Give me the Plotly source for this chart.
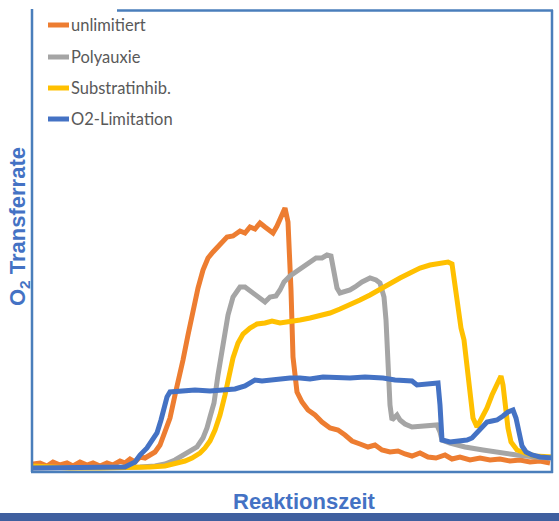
import plotly.graph_objects as go

# Data in arbitrary units (time on x, O2 transfer rate on y)
series_names = ["unlimitiert", "Polyauxie", "Substratinhib.", "O2-Limitation"]
series_colors = ["#ED7D31", "#A5A5A5", "#FFC000", "#4472C4"]

orange_x = [0, 7, 14, 20, 27, 34, 40, 47, 54, 60, 67, 74, 80, 87, 92, 97, 102, 107, 112, 117, 122, 127, 132, 137, 142, 147, 150, 155, 160, 165, 170, 175, 180, 187, 194, 200, 207, 212, 217, 222, 227, 232, 237, 240, 244, 249, 252, 255, 257, 258, 260, 262, 264, 269, 275, 282, 289, 297, 305, 312, 319, 327, 335, 342, 349, 357, 365, 372, 379, 387, 395, 403, 412, 419, 427, 437, 447, 457, 467, 477, 487, 497, 507, 517]
orange_y = [8, 9, 6, 10, 7, 9, 6, 10, 7, 9, 6, 9, 7, 11, 9, 13, 10, 15, 14, 17, 20, 27, 40, 54, 77, 97, 112, 137, 162, 184, 202, 214, 220, 228, 235, 236, 241, 239, 245, 243, 249, 245, 242, 239, 246, 259, 264, 250, 212, 182, 115, 92, 80, 70, 62, 57, 50, 44, 42, 37, 31, 28, 25, 27, 22, 20, 21, 18, 16, 19, 15, 14, 17, 13, 15, 12, 14, 12, 13, 11, 12, 10, 11, 9]

gray_x = [0, 27, 57, 87, 107, 122, 132, 142, 147, 152, 157, 164, 170, 174, 177, 181, 185, 188, 191, 195, 200, 204, 207, 212, 217, 224, 229, 232, 237, 243, 247, 251, 257, 264, 271, 277, 283, 289, 294, 298, 301, 304, 307, 312, 317, 322, 329, 337, 343, 347, 351, 353, 354, 356, 357, 359, 364, 367, 372, 379, 387, 397, 404, 407, 409, 417, 432, 450, 467, 484, 502, 517]
gray_y = [4, 4, 4, 4, 5, 6, 8, 12, 15, 17, 20, 25, 34, 44, 55, 69, 97, 117, 134, 157, 175, 182, 185, 185, 181, 175, 171, 170, 175, 176, 182, 190, 196, 201, 206, 210, 214, 214, 217, 216, 202, 184, 179, 180, 182, 185, 190, 194, 192, 189, 175, 152, 127, 92, 67, 52, 57, 52, 48, 45, 46, 46, 47, 40, 32, 29, 25, 22, 19, 17, 15, 14]

yellow_x = [0, 17, 37, 67, 97, 117, 132, 142, 152, 159, 167, 172, 177, 182, 187, 192, 196, 200, 205, 210, 217, 224, 232, 239, 247, 257, 267, 277, 287, 297, 307, 317, 327, 337, 347, 357, 367, 377, 387, 397, 407, 415, 419, 422, 425, 428, 431, 434, 437, 440, 444, 449, 454, 459, 464, 468, 470, 472, 475, 478, 484, 492, 502, 520]
yellow_y = [6, 5, 4, 4, 4, 5, 6, 8, 11, 14, 19, 24, 31, 42, 57, 77, 97, 114, 129, 138, 144, 148, 149, 151, 149, 150, 152, 154, 156, 159, 163, 167, 172, 177, 183, 189, 194, 199, 204, 207, 209, 210, 208, 187, 162, 144, 132, 107, 79, 54, 45, 54, 64, 77, 89, 96, 87, 65, 44, 30, 22, 19, 16, 15]

blue_x = [0, 27, 57, 77, 92, 102, 107, 114, 119, 124, 128, 131, 134, 137, 147, 162, 177, 192, 202, 212, 217, 222, 229, 237, 247, 257, 267, 277, 290, 302, 317, 332, 350, 362, 372, 379, 384, 392, 405, 407, 409, 417, 427, 434, 439, 444, 449, 454, 459, 464, 470, 475, 480, 483, 486, 489, 493, 499, 507, 520]
blue_y = [4, 4, 4, 4, 5, 10, 17, 24, 32, 39, 52, 64, 75, 80, 81, 82, 81, 82, 83, 86, 89, 92, 91, 92, 92, 94, 94, 93, 95, 94, 94, 95, 94, 92, 92, 91, 87, 88, 89, 67, 32, 30, 31, 32, 34, 39, 45, 50, 51, 52, 56, 60, 62, 54, 40, 26, 20, 17, 15, 14]

all_x = [orange_x, gray_x, yellow_x, blue_x]
all_y = [orange_y, gray_y, yellow_y, blue_y]

fig = go.Figure()
for name, color, xs, ys in zip(series_names, series_colors, all_x, all_y):
    fig.add_trace(go.Scatter(x=xs, y=ys, mode="lines", name=name,
                             line=dict(color=color, width=5, shape="linear"),
                             showlegend=False, hoverinfo="skip"))

W, H = 559, 521
L, R, T, B = 33, 6, 12, 49
pw, ph = W - L - R, H - T - B

def px(xp):
    return (xp - L) / pw

def py(yp):
    return (H - B - yp) / ph

border = "#4A7EBB"
shapes = [
    dict(type="line", xref="paper", yref="paper", x0=px(32), x1=px(32), y0=py(9), y1=py(472), line=dict(color=border, width=2.5)),
    dict(type="line", xref="paper", yref="paper", x0=px(31), x1=px(553), y0=py(472), y1=py(472), line=dict(color=border, width=2.5)),
    dict(type="line", xref="paper", yref="paper", x0=px(552), x1=px(552), y0=py(10), y1=py(473), line=dict(color=border, width=2.5)),
    dict(type="line", xref="paper", yref="paper", x0=px(117), x1=px(553), y0=py(10.5), y1=py(10.5), line=dict(color=border, width=2.5)),
    dict(type="rect", xref="paper", yref="paper", x0=px(0), x1=px(559), y0=py(513), y1=py(522), line=dict(width=0), fillcolor="#3F5F9F"),
]

annotations = []
legend_y = [25, 57, 88, 119]
for name, color, ly in zip(series_names, series_colors, legend_y):
    shapes.append(dict(type="line", xref="paper", yref="paper", x0=px(48), x1=px(69), y0=py(ly), y1=py(ly),
                       line=dict(color=color, width=5)))
    annotations.append(dict(xref="paper", yref="paper", x=px(69), y=py(ly), text=name, showarrow=False,
                            xanchor="left", yanchor="middle", font=dict(family="Lato", size=16.5, color="#595959")))

annotations.append(dict(xref="paper", yref="paper", x=px(304), y=py(501), text="Reaktionszeit", showarrow=False,
                        xanchor="center", yanchor="middle",
                        font=dict(family="Liberation Sans", size=22, color="#4472C4", weight="bold")))
annotations.append(dict(xref="paper", yref="paper", x=px(19), y=py(227), text="O<sub>2</sub> Transferrate", showarrow=False,
                        textangle=-90, xanchor="center", yanchor="middle",
                        font=dict(family="Liberation Sans", size=22, color="#4472C4", weight="bold")))

fig.update_layout(
    width=W, height=H,
    margin=dict(l=L, r=R, t=T, b=B),
    paper_bgcolor="white", plot_bgcolor="white",
    xaxis=dict(range=[0, 520], visible=False),
    yaxis=dict(range=[0, 460], visible=False),
    shapes=shapes, annotations=annotations,
)

fig.write_html("out.html", config={"displayModeBar": False},
               post_script="document.body.style.margin='0px';")
